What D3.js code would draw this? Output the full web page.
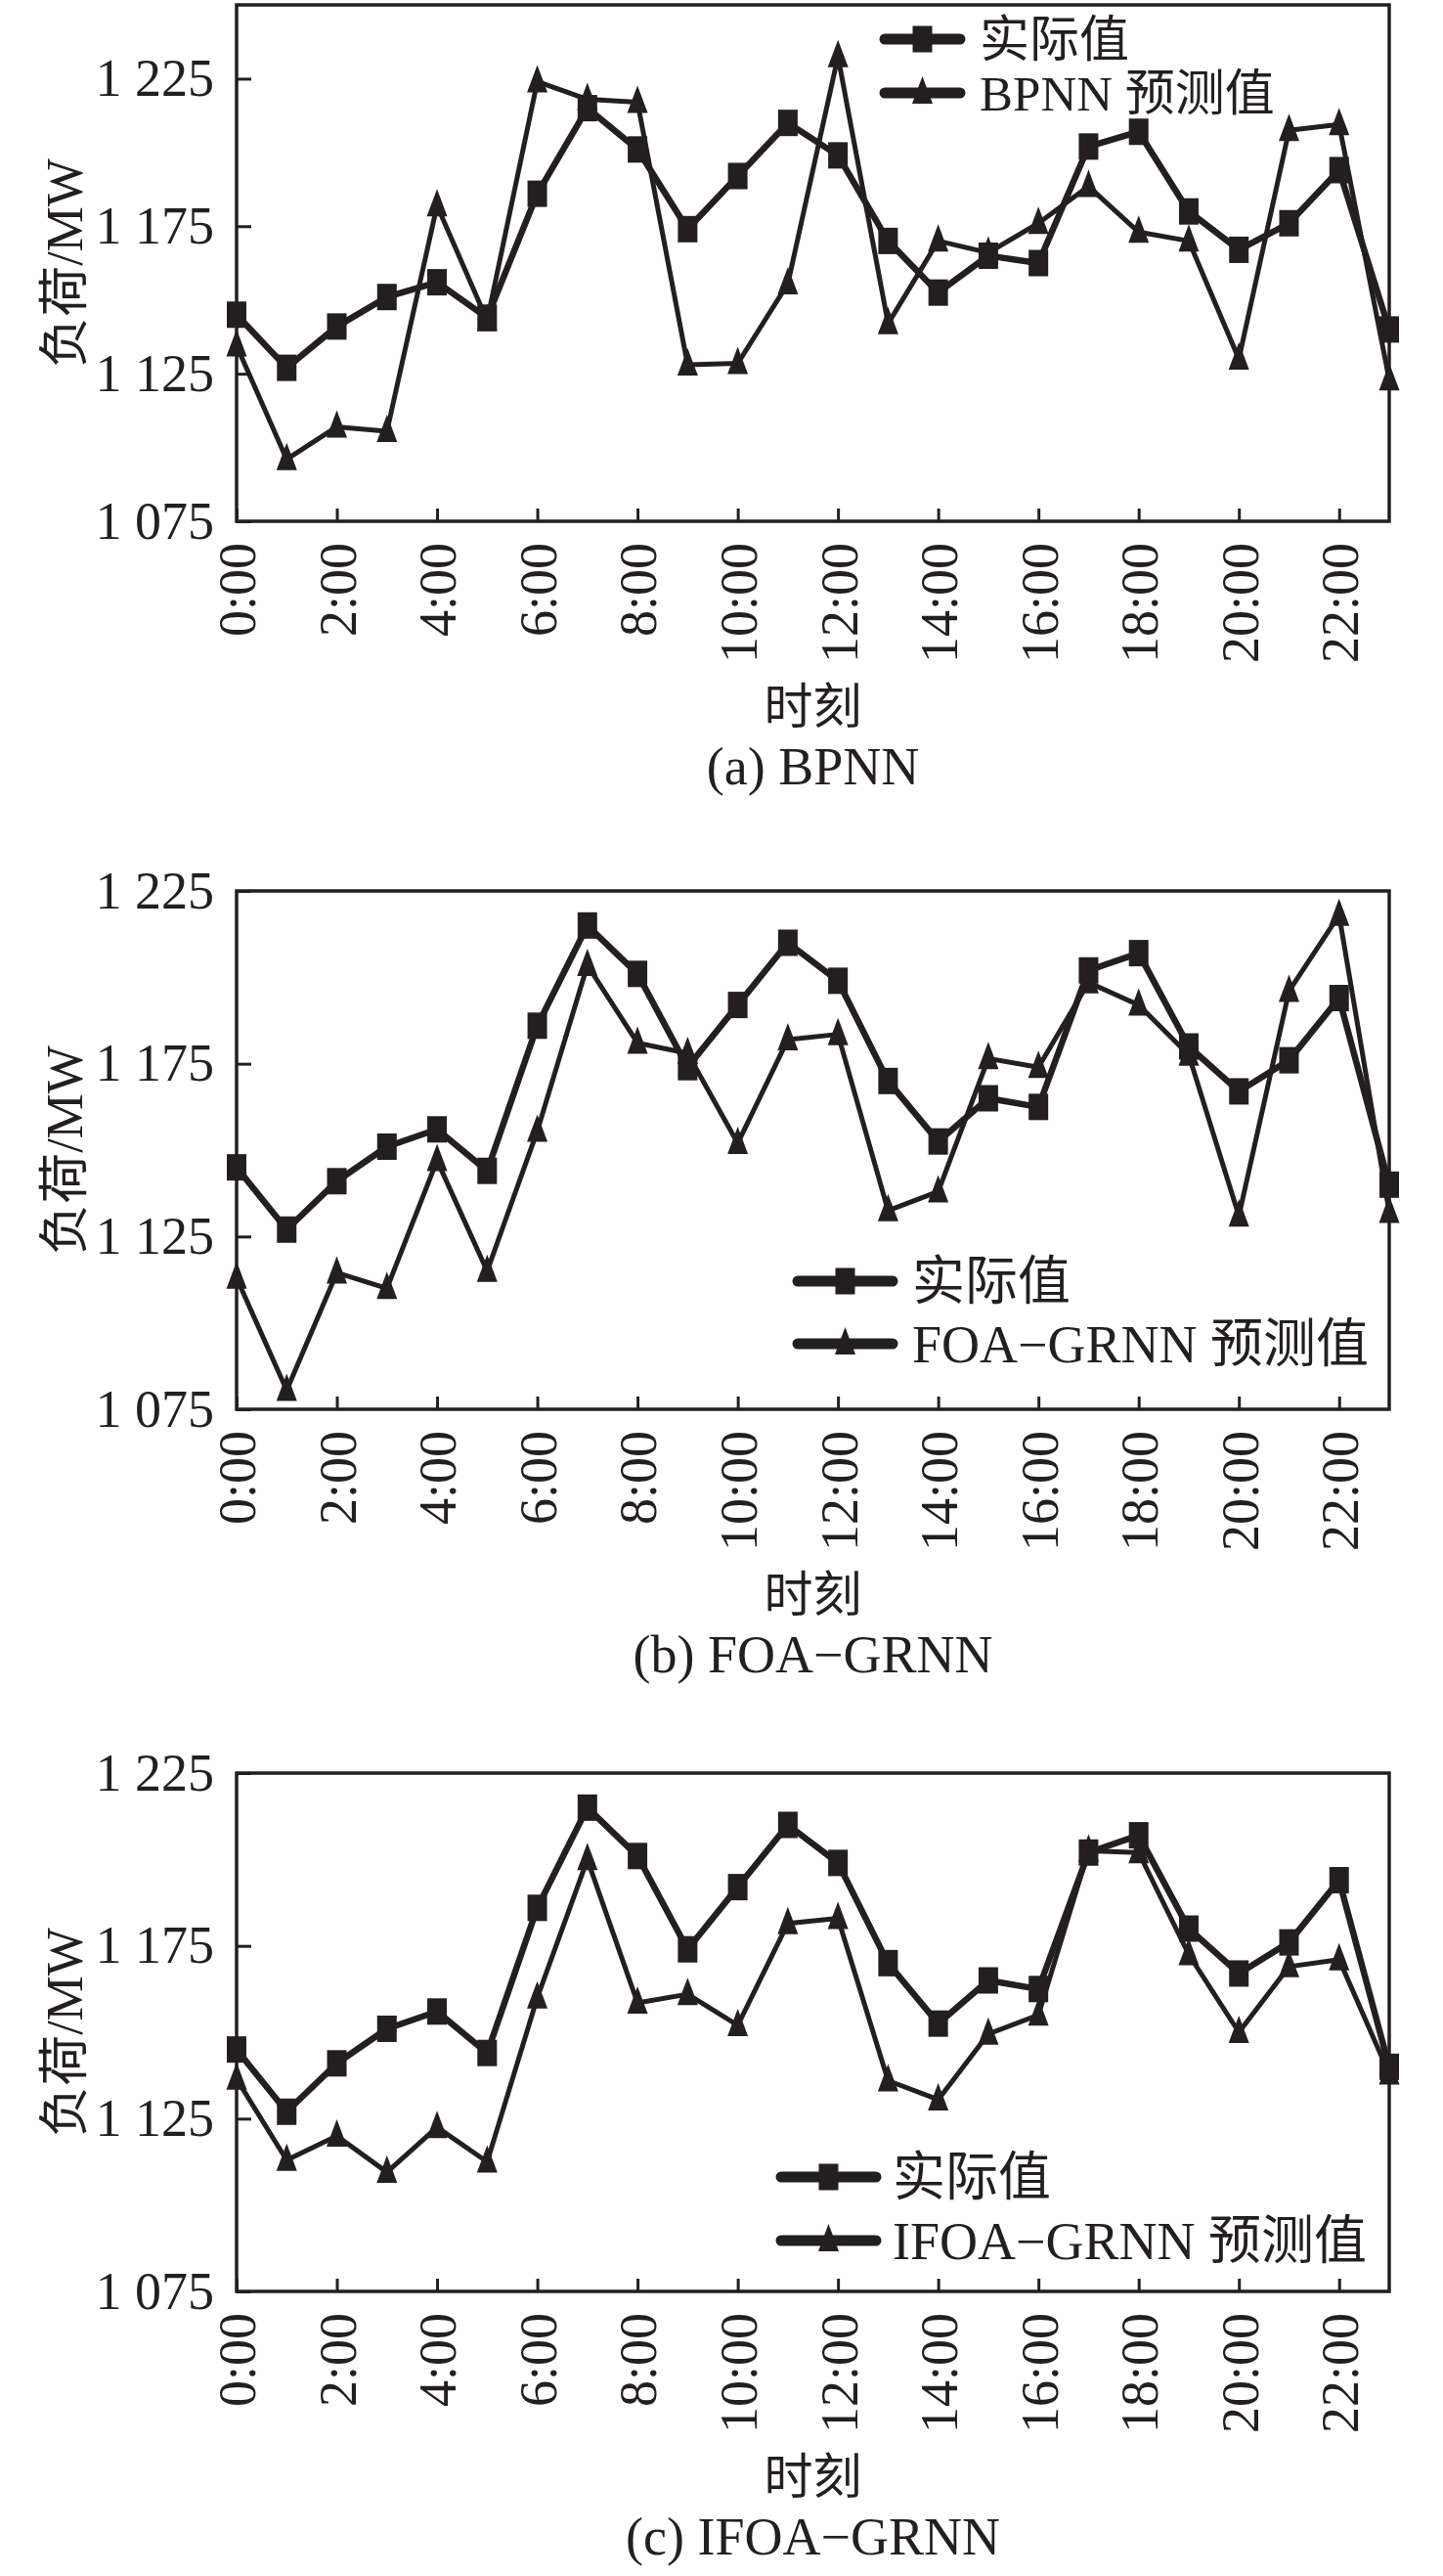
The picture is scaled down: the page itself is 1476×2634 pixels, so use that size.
<!DOCTYPE html>
<html>
<head>
<meta charset="utf-8">
<script src="https://cdn.jsdelivr.net/npm/d3@7"></script>
<style>
  body { margin: 0; background: #fff; }
  text { font-family: "Liberation Serif", "Times New Roman", "Noto Sans CJK SC", serif; fill: #231f20; }
</style>
</head>
<body>
<div id="chart"></div>
<script>
// hours of the day (0:00 .. 23:00)
let hours = d3.range(0, 24)
let hourTicks = [0, 2, 4, 6, 8, 10, 12, 14, 16, 18, 20, 22]

// actual load, MW
let actualLoad = [1145, 1127, 1141, 1151, 1156, 1144, 1186, 1215, 1201, 1174, 1192, 1210,
                  1199, 1170, 1152.5, 1165, 1162.5, 1202, 1207, 1180, 1167, 1176, 1194, 1140]

// model forecasts, MW
let bpnnLoad = [1134.5, 1096, 1107, 1105.5, 1182, 1143, 1224, 1218, 1217, 1128, 1128.5, 1155.5,
                1232.5, 1142, 1170, 1166, 1176, 1188.5, 1173, 1170, 1130, 1207.5, 1209.5, 1123]
let foaLoad = [1113, 1080.5, 1114.5, 1110, 1147, 1115, 1155.5, 1203.5, 1181, 1178, 1152, 1182,
               1183.5, 1132.5, 1138, 1176.5, 1174, 1198.5, 1192, 1177.5, 1131, 1196, 1218, 1132]
let ifoaLoad = [1136.5, 1113, 1120, 1109.5, 1122.5, 1112.5, 1160, 1200, 1158.5, 1161, 1152, 1181.5,
                1183, 1136, 1130.5, 1149.5, 1155, 1202.5, 1202, 1172.5, 1150, 1169, 1171, 1138]

let yTicksA = [1075, 1125, 1175, 1225]
let yTicksBC = [1075, 1125, 1175, 1225]

let panels = [
  {pred: bpnnLoad, name: "BPNN 预测值", caption: "(a) BPNN", top: 5, bottom: 533,
   domain: [1075, 1250], ticks: yTicksA,
   legend: {x0: 905, x1: 982, tx: 1002, y1: 40, y2: 95, fs: 51}},
  {pred: foaLoad, name: "FOA\u2212GRNN 预测值", caption: "(b) FOA\u2212GRNN", top: 911, bottom: 1441,
   domain: [1075, 1225], ticks: yTicksBC,
   legend: {x0: 816, x1: 913, tx: 933, y1: 1310, y2: 1374, fs: 54}},
  {pred: ifoaLoad, name: "IFOA\u2212GRNN 预测值", caption: "(c) IFOA\u2212GRNN", top: 1813, bottom: 2343,
   domain: [1075, 1225], ticks: yTicksBC,
   legend: {x0: 799, x1: 896, tx: 913, y1: 2226, y2: 2291, fs: 54}}
]

let ink = "#231f20"
let left = 242, right = 1421

let svg = d3.select('#chart')
        .append('svg')
        .attr('width', 1476)
        .attr('height', 2634)

svg.append('rect').attr('width', 1476).attr('height', 2634).attr('fill', '#fff')

let x = d3.scaleLinear()
        .domain([0, 23])
        .range([left, right])

let fmtLoad = d => d3.format(",")(d).replace(",", " ")

// marker shapes (relative to the data point)
let sqW = 20, sqH = 27
let triPath = "M0,-17L10.5,11L-10.5,11Z"

function drawSquares(g, data, y){
    g.selectAll(".sq")
        .data(data)
        .enter()
        .append("rect")
        .attr("x", (d, i) => x(hours[i]) - sqW/2)
        .attr("y", d => y(d) - sqH/2)
        .attr("width", sqW)
        .attr("height", sqH)
        .attr("fill", ink)
}

function drawTriangles(g, data, y){
    g.selectAll(".tri")
        .data(data)
        .enter()
        .append("path")
        .attr("d", triPath)
        .attr("transform", (d, i) => "translate(" + x(hours[i]) + "," + y(d) + ")")
        .attr("fill", ink)
}

panels.forEach(function(p){
    let y = d3.scaleLinear()
            .domain(p.domain)
            .range([p.bottom, p.top])

    let g = svg.append('g')

    // y axis, ticks pointing inward
    let ya = g.append('g')
        .attr('transform', "translate(" + left + ",0)")
        .call(d3.axisLeft(y).tickValues(p.ticks).tickSize(-15).tickPadding(23).tickFormat(fmtLoad))
    ya.select(".domain").remove()
    ya.selectAll("line").attr("stroke", ink).attr("stroke-width", 3)
    ya.selectAll("text")
        .attr("fill", ink)
        .style("font-size", "54px")
        .style("font-family", "Liberation Serif")

    // x axis
    let xa = g.append('g')
        .attr('transform', "translate(0," + p.bottom + ")")
        .call(d3.axisBottom(x).tickValues(hourTicks).tickSize(-13).tickFormat(h => h + ":00"))
    xa.select(".domain").remove()
    xa.selectAll("line").attr("stroke", ink).attr("stroke-width", 3)
    xa.selectAll("text")
        .attr("fill", ink)
        .attr("transform", "rotate(-90)")
        .attr("x", -22)
        .attr("y", 0)
        .attr("dy", "0.35em")
        .attr("text-anchor", "end")
        .style("font-size", "54px")
        .style("font-family", "Liberation Serif")

    // frame
    g.append('rect')
        .attr('x', left)
        .attr('y', p.top)
        .attr('width', right - left)
        .attr('height', p.bottom - p.top)
        .attr('fill', 'none')
        .attr('stroke', ink)
        .attr('stroke-width', 3.5)

    // axis titles
    g.append('text')
        .attr('transform', "translate(84," + (p.top + p.bottom)/2 + ") rotate(-90)")
        .attr('text-anchor', 'middle')
        .style('font-size', '52px')
        .text("负荷/MW")

    g.append('text')
        .attr('x', (left + right)/2)
        .attr('y', p.bottom + 207)
        .attr('text-anchor', 'middle')
        .style('font-size', '50px')
        .text("时刻")

    g.append('text')
        .attr('x', (left + right)/2)
        .attr('y', p.bottom + 269)
        .attr('text-anchor', 'middle')
        .style('font-size', '54px')
        .text(p.caption)

    // lines
    let line = d3.line()
        .x((d, i) => x(hours[i]))
        .y(d => y(d))

    g.append('path')
        .datum(p.pred)
        .attr('d', line)
        .attr('fill', 'none')
        .attr('stroke', ink)
        .attr('stroke-width', 5)
        .attr('stroke-linejoin', 'round')
    drawTriangles(g, p.pred, y)

    g.append('path')
        .datum(actualLoad)
        .attr('d', line)
        .attr('fill', 'none')
        .attr('stroke', ink)
        .attr('stroke-width', 6.5)
        .attr('stroke-linejoin', 'round')
    drawSquares(g, actualLoad, y)

    // legend
    let L = p.legend
    let mid = (L.x0 + L.x1)/2
    let lg = g.append('g')
    ;[L.y1, L.y2].forEach(function(ly, k){
        lg.append('line')
            .attr('x1', L.x0).attr('x2', L.x1)
            .attr('y1', ly).attr('y2', ly)
            .attr('stroke', ink)
            .attr('stroke-width', 11)
            .attr('stroke-linecap', 'round')
        if (k == 0){
            lg.append('rect')
                .attr('x', mid - sqW/2).attr('y', ly - sqH/2)
                .attr('width', sqW).attr('height', sqH)
                .attr('fill', ink)
        } else {
            lg.append('path')
                .attr('d', triPath)
                .attr('transform', "translate(" + mid + "," + ly + ")")
                .attr('fill', ink)
        }
        lg.append('text')
            .attr('x', L.tx)
            .attr('y', ly)
            .attr('dy', '0.36em')
            .style('font-size', L.fs + 'px')
            .text(k == 0 ? "实际值" : p.name)
    })
})
</script>
</body>
</html>
